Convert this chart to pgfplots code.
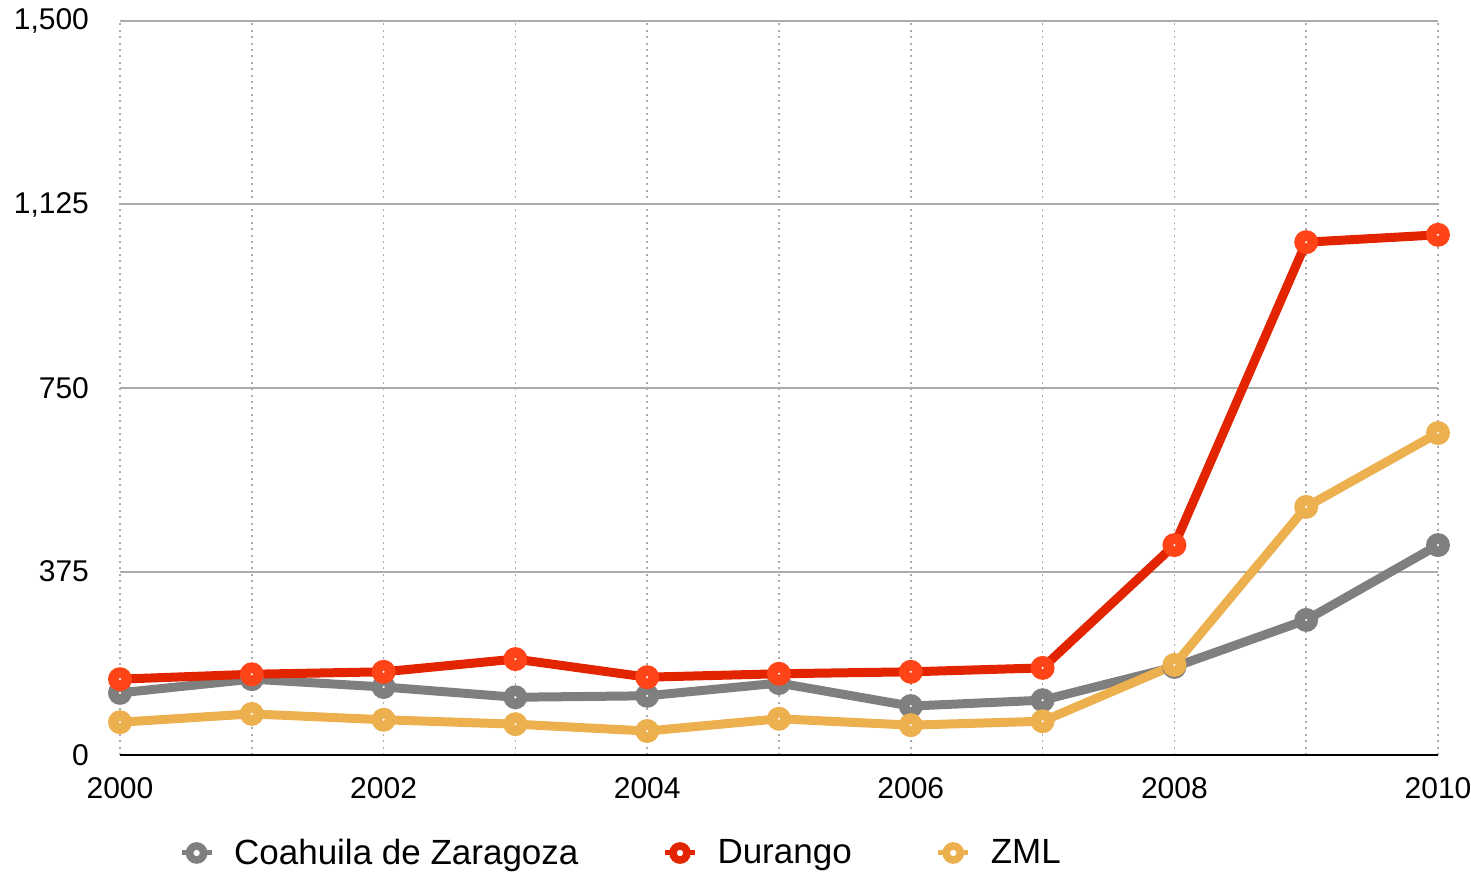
\documentclass[border=0pt]{standalone}
\usepackage{pgfplots}
\pgfplotsset{compat=1.18}
\usepackage{fontspec}
\setmainfont{Liberation Sans}
\definecolor{cgray}{HTML}{7F7F7F}
\definecolor{cred}{HTML}{E22400}
\definecolor{credm}{HTML}{FF4418}
\definecolor{corange}{HTML}{ECB04E}
\definecolor{gridgray}{HTML}{ABABAB}
\pgfdeclareplotmark{dotc}{%
  \pgfpathcircle{\pgfpointorigin}{\pgfplotmarksize}\pgfusepathqfill
  \begin{pgfscope}%
  \pgfsetfillcolor{white}%
  \pgfpathcircle{\pgfpointorigin}{0.6pt}\pgfusepathqfill
  \end{pgfscope}}
\begin{document}
\begin{tikzpicture}
\path[use as bounding box] (-60pt,-58.5pt) rectangle (675.5pt,377.5pt);
\begin{axis}[
  at={(0,0)}, anchor=south west,
  scale only axis, width=659pt, height=367pt,
  xmin=2000, xmax=2010, ymin=0, ymax=1500,
  clip=false,
  axis x line*=bottom, axis y line*=left,
  y axis line style={draw=none},
  x axis line style={black, line width=1pt, -},
  xtick={2000,2001,...,2010},
  xticklabels={2000,,2002,,2004,,2006,,2008,,2010},
  ytick={0,375,750,1125,1500},
  yticklabels={0,375,750,{1,125},{1,500}},
  major tick length=0pt,
  xmajorgrids, ymajorgrids,
  x grid style={gridgray, line width=0.8pt, dash pattern=on 1pt off 2.2pt},
  y grid style={gridgray, line width=1pt},
  tick label style={font=\fontsize{15}{17}\selectfont},
  yticklabel style={xshift=-12pt},
  xticklabel style={yshift=-7.5pt},
  /pgf/number format/assume math mode=true,
  legend columns=3,
  legend cell align=left,
  legend style={draw=none, fill=none, at={(rel axis cs:0.04,-0.1335)}, anchor=west,
    font=\fontsize{17.5}{20}\selectfont,
    /tikz/every odd column/.append style={column sep=8pt},
    /tikz/every even column/.append style={column sep=40pt}},
  legend image code/.code={
    \draw[line width=2.5pt] (0pt,0pt) -- (15pt,0pt);
    \draw[line width=3.8pt, fill=white] (7.5pt,0pt) circle (3.5pt);
  },
]
\addplot[cgray, line width=4.5pt, mark=dotc, mark size=6pt, mark options={solid, fill=cgray}]
coordinates {(2000,127) (2001,155) (2002,139) (2003,118) (2004,121) (2005,147) (2006,100) (2007,112) (2008,180) (2009,276) (2010,429)};
\addlegendentry{Coahuila de Zaragoza}
\addplot[cred, line width=4.5pt, mark=dotc, mark size=6pt, mark options={solid, fill=credm}]
coordinates {(2000,155) (2001,165) (2002,170) (2003,196) (2004,159) (2005,166) (2006,170) (2007,178) (2008,429) (2009,1048) (2010,1063)};
\addlegendentry{Durango}
\addplot[corange, line width=4.5pt, mark=dotc, mark size=6pt, mark options={solid, fill=corange}]
coordinates {(2000,67) (2001,84) (2002,72) (2003,63) (2004,49) (2005,74) (2006,61) (2007,69) (2008,184) (2009,507) (2010,658)};
\addlegendentry{ZML}
\end{axis}
\end{tikzpicture}
\end{document}
